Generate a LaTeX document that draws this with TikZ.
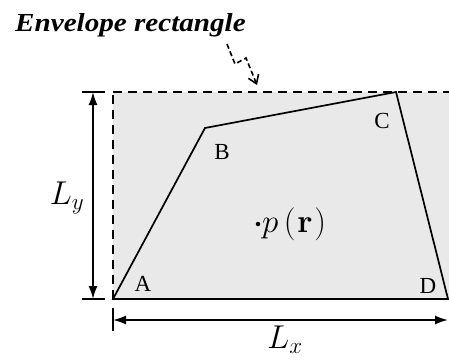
\documentclass[tikz,border=0pt]{standalone}
\usepackage{fix-cm}
\usepackage[no-math]{fontspec}
\setmainfont{Liberation Serif}
\usetikzlibrary{arrows.meta}
\begin{document}
\begin{tikzpicture}[x=1pt,y=-1pt,
  thick line/.style={line width=1.7pt},
  envdash/.style={line width=1.7pt, dash pattern=on 9pt off 6pt},
  poly/.style={line width=1.7pt, line join=miter},
  dimtips/.style={{Latex[length=13pt,width=9pt]}-{Latex[length=13pt,width=9pt]}},
  vlabel/.style={font=\fontsize{23}{23}\selectfont, inner sep=0pt},
  mlabel/.style={font=\fontsize{33}{33}\selectfont, inner sep=0pt},
  title/.style={font=\fontsize{26}{26}\selectfont\bfseries\itshape, inner sep=0pt}]
\useasboundingbox (0,0) rectangle (449,360);
% envelope rectangle
\coordinate (A) at (113,299);
\coordinate (B) at (205,128);
\coordinate (C) at (396,92);
\coordinate (D) at (448,299);
\coordinate (TL) at (113,92);
\coordinate (TR) at (449,92);
\coordinate (BR) at (449,299);
\fill[gray!17] (TL) rectangle (BR);
\draw[envdash] (TL) -- (TR);
\draw[envdash] (A) -- (TL);
\draw[poly] (A) -- (B) -- (C) -- (D) -- cycle;
% vertex labels
\node[vlabel] (la) at (143,284) {A};
\node[vlabel] (lb) at (222,152) {B};
\node[vlabel] (lc) at (382,121) {C};
\node[vlabel] (ld) at (428,286) {D};
% vertical dimension
\coordinate (ty1a) at (82,92);  \coordinate (ty1b) at (105,92);
\coordinate (ty2a) at (82,299); \coordinate (ty2b) at (105,299);
\coordinate (vy1) at (93,92);   \coordinate (vy2) at (93,299);
\draw[thick line] (ty1a) -- (ty1b);
\draw[thick line] (ty2a) -- (ty2b);
\draw[thick line, dimtips] (vy1) -- (vy2);
\node[mlabel] (ly) at (67,198) {$L_y$};
% horizontal dimension
\coordinate (tx1a) at (113,308); \coordinate (tx1b) at (113,331);
\coordinate (hx1) at (113,320);  \coordinate (hx2) at (448,320);
\draw[thick line] (tx1a) -- (tx1b);
\draw[thick line, dimtips] (hx1) -- (hx2);
\node[mlabel] (lx) at (285,340) {$L_x$};
% point
\node[circle, fill=black, inner sep=0pt, minimum size=4.5pt] (pt) at (258,224) {};
\node[mlabel, anchor=base west] (pr) at (262,232) {$p\mkern3mu(\mkern1mu\mathbf{r}\mkern1mu)$};
% title and zigzag arrow
\node[title, anchor=base west, xscale=1.12] (ttl) at (15,31) {Envelope rectangle};
\coordinate (z0) at (227,44);
\coordinate (z1) at (235,64);
\coordinate (z2) at (246,58);
\coordinate (z3) at (257,85);
\draw[line width=1.6pt, dash pattern=on 5pt off 3pt, -{Straight Barb[length=8pt,width=11pt]}]
  (z0) -- (z1) -- (z2) -- (z3);
\end{tikzpicture}
\end{document}
